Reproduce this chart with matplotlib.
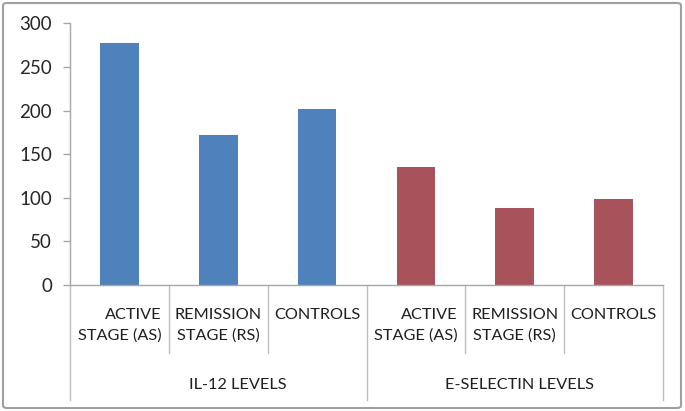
import matplotlib
matplotlib.use("Agg")
import matplotlib.pyplot as plt
from matplotlib.patches import FancyBboxPatch
from matplotlib.lines import Line2D

plt.rcParams['font.family'] = ['Lato', 'DejaVu Sans']

groups = ["IL-12 LEVELS", "E-SELECTIN LEVELS"]
subcats = ["ACTIVE\nSTAGE (AS)", "REMISSION\nSTAGE (RS)", "CONTROLS"]
il12_values = [277, 172, 202]
eselectin_values = [135, 88, 99]
group_colors = ["#4F81BD", "#A8535B"]
yticks = [0, 50, 100, 150, 200, 250, 300]

fig = plt.figure(figsize=(6.85, 4.11), dpi=100)
W, H = 685, 411
ax = fig.add_axes([70 / W, 1 - 285 / H, (663 - 70) / W, (285 - 23.3) / H])

series = [il12_values, eselectin_values]
n = len(subcats)
for g, vals in enumerate(series):
    xs = [g * n + i for i in range(n)]
    ax.bar(xs, vals, width=0.39, color=group_colors[g], zorder=2)

ax.set_xlim(-0.5, len(groups) * n - 0.5)
ax.set_ylim(0, 300)
ax.set_yticks(yticks)
ax.set_yticklabels([str(t) for t in yticks], fontsize=13.5, color="#262626")
ax.tick_params(axis="y", length=5, width=1, color="#A6A6A6", pad=8)
ax.set_xticks([])
for s in ["top", "right"]:
    ax.spines[s].set_visible(False)
for s in ["left", "bottom"]:
    ax.spines[s].set_color("#A6A6A6")
    ax.spines[s].set_linewidth(1.0)

trans = ax.get_xaxis_transform()
line_col = "#BFBFBF"
# separators
total = len(groups) * n
for k in range(total + 1):
    x = k - 0.5
    if k % n == 0:
        y0 = -(400 - 285) / (285 - 23.3)
    else:
        y0 = -(353 - 285) / (285 - 23.3)
    ax.add_line(Line2D([x, x], [0, y0], transform=trans, color=line_col,
                       lw=1.0, clip_on=False))

# sub category labels
for g in range(len(groups)):
    for i, lab in enumerate(subcats):
        x = g * n + i
        ma = "right" if i == 0 else "center"
        ax.text(x, -(308 - 285) / (285 - 23.3), lab, transform=trans,
                ha="center", va="top", fontsize=11.7, color="#1F1F1F",
                multialignment=ma, linespacing=1.55)
    ax.text(g * n + 1 + (0.2 if g == 0 else 0.05), -(385 - 285) / (285 - 23.3),
            groups[g], transform=trans, ha="center", va="center",
            fontsize=11.7, color="#1F1F1F")

# outer frame
frame = FancyBboxPatch((3 / W, 3 / H), (681 - 3) / W, (408 - 3) / H,
                       boxstyle="round,pad=0,rounding_size=0.006",
                       transform=fig.transFigure, fill=False,
                       edgecolor="#A0A0A0", lw=1.5)
fig.patches.append(frame)

fig.savefig("out.png", dpi=100)
